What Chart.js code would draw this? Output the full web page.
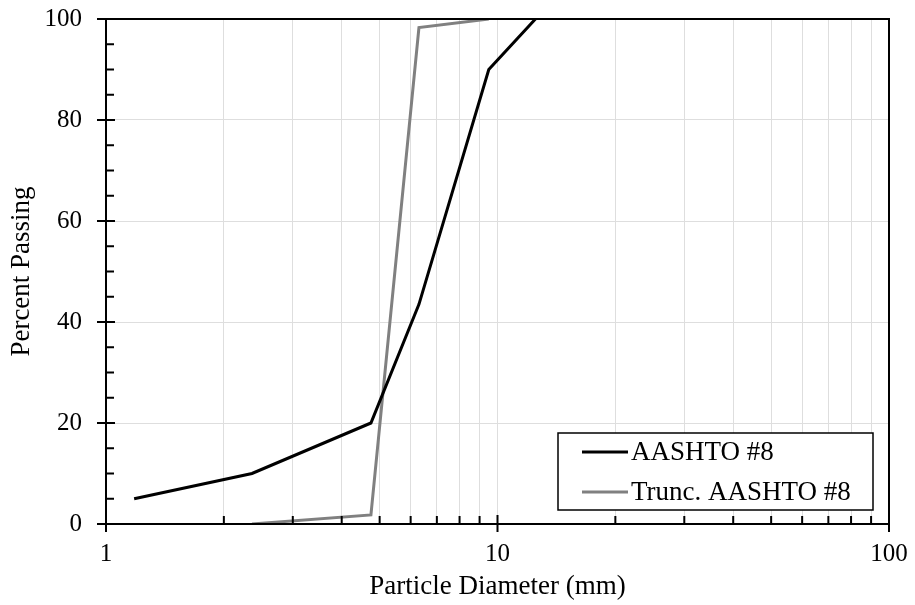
<!DOCTYPE html>
<html>
<head>
<meta charset="utf-8">
<script src="https://cdn.jsdelivr.net/npm/chart.js@4.4.1/dist/chart.umd.min.js"></script>
<style>
  body { margin: 0; background: #fff; }
  #wrap { width: 915px; height: 605px; }
</style>
</head>
<body>
<div id="wrap"><canvas id="chart" width="915" height="605"></canvas></div>
<script>
// sieve sizes (mm) and percent passing
const aashtoSize = [1.18, 2.36, 4.75, 6.3, 9.5, 12.5];
const aashtoPass = [5, 10, 20, 43.5, 90, 100];
const truncSize = [2.36, 4.75, 6.3, 9.5];
const truncPass = [0, 1.8, 98.3, 100];

const xTicks = [1, 2, 3, 4, 5, 6, 7, 8, 9, 10, 20, 30, 40, 50, 60, 70, 80, 90, 100];
const xLabels = [1, 10, 100];

const serif = '"Liberation Serif", "Times New Roman", serif';

function toPoints(xs, ys) {
    return xs.map((x, i) => ({ x: x, y: ys[i] }));
}

// frame, inside/outside tick marks, boxed legend
const framePlugin = {
    id: 'frame',
    afterDraw(chart) {
        const ctx = chart.ctx;
        const a = chart.chartArea;
        const xs = chart.scales.x;
        const ys = chart.scales.y;
        ctx.save();
        ctx.strokeStyle = '#000';
        ctx.lineWidth = 2;
        ctx.strokeRect(a.left, a.top, a.right - a.left, a.bottom - a.top);

        ctx.beginPath();
        for (let v = 0; v <= 100; v += 5) {
            const y = ys.getPixelForValue(v);
            if (v % 20 === 0) {
                ctx.moveTo(a.left - 9, y);
                ctx.lineTo(a.left + 9, y);
            } else {
                ctx.moveTo(a.left, y);
                ctx.lineTo(a.left + 8, y);
            }
        }
        xTicks.forEach(v => {
            const x = xs.getPixelForValue(v);
            if (xLabels.includes(v)) {
                ctx.moveTo(x, a.bottom + 8);
                ctx.lineTo(x, a.bottom - 9);
            } else {
                ctx.moveTo(x, a.bottom);
                ctx.lineTo(x, a.bottom - 8);
            }
        });
        ctx.stroke();

        // legend box
        const bw = 315, bh = 77;
        const bx = a.right - 16 - bw;
        const by = a.bottom - 14 - bh;
        ctx.fillStyle = '#fff';
        ctx.fillRect(bx, by, bw, bh);
        ctx.lineWidth = 1.5;
        ctx.strokeRect(bx, by, bw, bh);
        ctx.font = '27px ' + serif;
        ctx.textBaseline = 'middle';
        chart.data.datasets.forEach((ds, i) => {
            const y = by + 19 + i * 40;
            ctx.strokeStyle = ds.borderColor;
            ctx.lineWidth = 3;
            ctx.beginPath();
            ctx.moveTo(bx + 24, y);
            ctx.lineTo(bx + 70, y);
            ctx.stroke();
            ctx.fillStyle = '#000';
            ctx.fillText(ds.label, bx + 73, y + 1);
        });
        ctx.restore();
    }
};

new Chart(document.getElementById('chart'), {
    type: 'scatter',
    data: {
        datasets: [
            {
                label: 'AASHTO #8',
                data: toPoints(aashtoSize, aashtoPass),
                showLine: true,
                borderColor: '#000000',
                borderWidth: 3,
                pointRadius: 0
            },
            {
                label: 'Trunc. AASHTO #8',
                data: toPoints(truncSize, truncPass),
                showLine: true,
                borderColor: '#808080',
                borderWidth: 3,
                pointRadius: 0
            }
        ]
    },
    options: {
        responsive: false,
        animation: false,
        layout: { padding: { top: 19, right: 26, left: 0, bottom: 0 } },
        plugins: {
            legend: { display: false },
            tooltip: { enabled: false }
        },
        scales: {
            x: {
                type: 'logarithmic',
                min: 1,
                max: 100,
                afterBuildTicks: s => { s.ticks = xTicks.map(v => ({ value: v })); },
                afterFit: s => { s.height = 81; s.paddingLeft = 0; s.paddingRight = 0; },
                grid: { color: '#dedede', lineWidth: 1, drawTicks: false },
                border: { display: false },
                ticks: {
                    autoSkip: false,
                    maxRotation: 0,
                    padding: 15,
                    color: '#000',
                    font: { family: serif, size: 25 },
                    callback: v => xLabels.includes(v) ? String(v) : ''
                },
                title: {
                    display: true,
                    text: 'Particle Diameter (mm)',
                    color: '#000',
                    font: { family: serif, size: 27 },
                    padding: { top: 0, bottom: 2 }
                }
            },
            y: {
                min: 0,
                max: 100,
                afterFit: s => { s.width = 106; s.paddingTop = 0; s.paddingBottom = 0; },
                grid: { color: '#dedede', lineWidth: 1, drawTicks: false },
                border: { display: false },
                ticks: {
                    stepSize: 20,
                    padding: 24,
                    color: '#000',
                    font: { family: serif, size: 25 }
                },
                title: {
                    display: true,
                    text: 'Percent Passing',
                    color: '#000',
                    font: { family: serif, size: 27 },
                    padding: { top: 6, bottom: 0 }
                }
            }
        }
    },
    plugins: [framePlugin]
});
</script>
</body>
</html>
